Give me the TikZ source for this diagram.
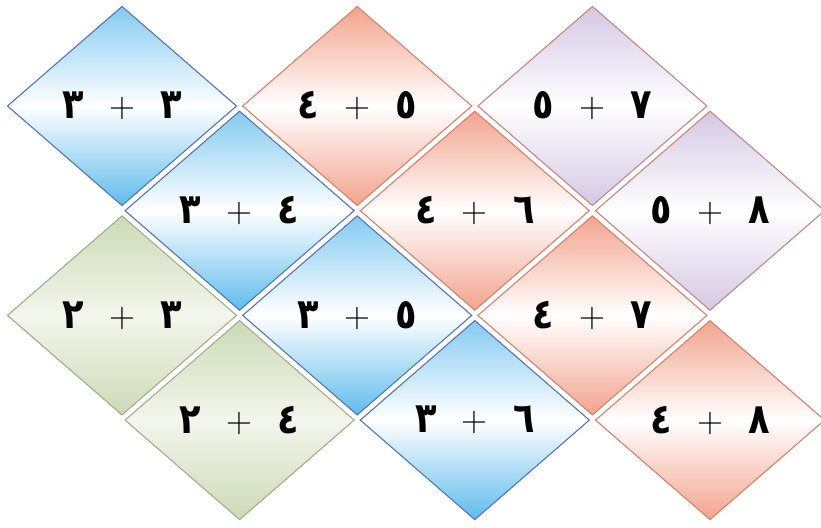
\documentclass[tikz,border=0pt]{standalone}
\usepackage{fontspec}
\usetikzlibrary{shapes.geometric}
\newfontfamily\arfont[Script=Arabic]{DejaVu Sans}
\definecolor{bluefill}{HTML}{5EBCEC}
\definecolor{bluetop}{HTML}{84CBF1}
\definecolor{blueline}{HTML}{5674B6}
\definecolor{redfill}{HTML}{F2A48D}
\definecolor{redline}{HTML}{D4826D}
\definecolor{lavfill}{HTML}{D3C8E4}
\definecolor{lavline}{HTML}{C9877A}
\definecolor{greenfill}{HTML}{CCDAB6}
\definecolor{greenmid}{HTML}{F3F6EC}
\definecolor{greenline}{HTML}{A2AF8B}
\newcommand\digfont{\arfont\bfseries\fontsize{40}{40}\selectfont}
\newcommand\plusfont{\fontsize{36}{36}\selectfont}
\newcommand\sumlabel[2]{\makebox[40pt]{\scalebox{0.88}[1.05]{\digfont #1}}\makebox[58pt]{\raisebox{1pt}{\plusfont +}}\makebox[40pt]{\scalebox{0.88}[1.05]{\digfont #2}}}
\begin{document}
\begin{tikzpicture}[x=1pt,y=-1pt,
  tile/.style={diamond, line width=1.1pt, minimum width=229pt, minimum height=199pt,
    inner sep=0pt, outer sep=0pt, shape aspect=1.15},
  bluetile/.style={tile, draw=blueline, top color=bluetop, bottom color=bluefill, middle color=white},
  redtile/.style={tile, draw=redline, top color=redfill, bottom color=redfill, middle color=white},
  lavtile/.style={tile, draw=lavline, top color=lavfill, bottom color=lavfill, middle color=white},
  greentile/.style={tile, draw=greenline, top color=greenfill, bottom color=greenfill, middle color=greenmid},
  sumtext/.style={inner sep=0pt, text=black}]
\path[fill=white] (0,0) rectangle (821,527);
\useasboundingbox (0,0) rectangle (821,527);
\clip (0,0) rectangle (821,527);
% row 0
\node[bluetile] (t33) at (122,106) {};
\node[redtile]  (t45) at (357.2,106) {};
\node[lavtile]  (t57) at (592.4,106) {};
% row 1
\node[bluetile] (t34) at (239.6,210.7) {};
\node[redtile]  (t46) at (474.8,210.7) {};
\node[lavtile]  (t58) at (710,210.7) {};
% row 2
\node[greentile] (t23) at (122,315.4) {};
\node[bluetile]  (t35) at (357.2,315.4) {};
\node[redtile]   (t47) at (592.4,315.4) {};
% row 3
\node[greentile] (t24) at (239.6,420.1) {};
\node[bluetile]  (t36) at (474.8,420.1) {};
\node[redtile]   (t48) at (710,420.1) {};
% labels
\node[sumtext] (l33) at (t33) {\sumlabel{٣}{٣}};
\node[sumtext] (l45) at (t45) {\sumlabel{٤}{٥}};
\node[sumtext] (l57) at (t57) {\sumlabel{٥}{٧}};
\node[sumtext] (l34) at (t34) {\sumlabel{٣}{٤}};
\node[sumtext] (l46) at (t46) {\sumlabel{٤}{٦}};
\node[sumtext] (l58) at (t58) {\sumlabel{٥}{٨}};
\node[sumtext] (l23) at (t23) {\sumlabel{٢}{٣}};
\node[sumtext] (l35) at (t35) {\sumlabel{٣}{٥}};
\node[sumtext] (l47) at (t47) {\sumlabel{٤}{٧}};
\node[sumtext] (l24) at (t24) {\sumlabel{٢}{٤}};
\node[sumtext] (l36) at (t36) {\sumlabel{٣}{٦}};
\node[sumtext] (l48) at (t48) {\sumlabel{٤}{٨}};
\end{tikzpicture}
\end{document}
